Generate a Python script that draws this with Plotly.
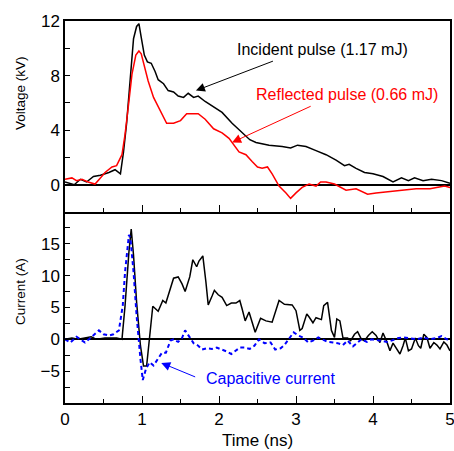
import plotly.graph_objects as go

# ---- Data ----
t_inc = [0, 0.07, 0.12, 0.2, 0.28, 0.37, 0.46, 0.57, 0.65, 0.72, 0.76, 0.8, 0.85, 0.89, 0.93, 0.96, 0.99,
         1.03, 1.07, 1.12, 1.17, 1.21, 1.28, 1.34, 1.41, 1.47, 1.54, 1.6, 1.67, 1.73, 1.82, 1.93, 2.04,
         2.17, 2.3, 2.4, 2.48, 2.65, 2.82, 2.93, 3.02, 3.13, 3.26, 3.39, 3.52, 3.63, 3.69, 3.78, 3.89,
         4.0, 4.13, 4.26, 4.37, 4.46, 4.54, 4.65, 4.76, 4.89, 5.0]
v_inc = [0.2, 0.1, 0.0, 0.4, 0.2, 0.6, 0.7, 0.9, 1.1, 0.8, 2.4, 4.5, 8.2, 10.7, 11.6, 11.8, 10.8,
         9.5, 9.0, 8.9, 8.3, 7.7, 7.4, 6.9, 6.8, 6.5, 6.4, 6.7, 6.4, 6.5, 6.1, 5.7, 5.3,
         4.5, 3.8, 3.3, 3.1, 2.9, 2.8, 2.7, 2.9, 2.8, 2.5, 2.2, 1.8, 1.4, 1.5, 1.2, 0.9,
         0.8, 0.6, 0.2, 0.5, 0.3, 0.5, 0.3, 0.4, 0.3, 0.1]

t_ref = [0, 0.09, 0.15, 0.22, 0.3, 0.39, 0.46, 0.52, 0.61, 0.67, 0.74, 0.78, 0.83, 0.87, 0.92, 0.96, 0.99,
         1.03, 1.08, 1.15, 1.21, 1.28, 1.32, 1.41, 1.5, 1.58, 1.67, 1.73, 1.82, 1.93, 2.04, 2.13, 2.26,
         2.35, 2.43, 2.5, 2.56, 2.63, 2.69, 2.78, 2.87, 2.93, 3.0, 3.08, 3.17, 3.26, 3.32, 3.39, 3.5,
         3.65, 3.78, 3.93, 4.04, 4.21, 4.39, 4.56, 4.74, 4.85, 4.93, 5.0]
v_ref = [0.4, 0.5, 0.3, 0.4, 0.2, 0.05, 0.5, 0.9, 1.3, 1.4, 2.2, 3.7, 6.1, 8.1, 9.5, 9.8, 9.6,
         8.7, 7.6, 6.4, 5.7, 4.9, 4.5, 4.5, 4.7, 5.2, 5.2, 5.2, 4.8, 4.1, 3.8, 3.4, 2.4,
         2.2, 1.7, 1.3, 1.2, 1.3, 0.8, -0.1, -0.6, -1.0, -0.6, -0.2, 0.05, -0.1, 0.2, 0.2, 0.05,
         -0.4, -0.3, -0.7, -0.6, -0.5, -0.4, -0.3, -0.3, -0.2, -0.1, -0.2]

t_cur = [0, 0.09, 0.17, 0.26, 0.34, 0.41, 0.52, 0.61, 0.67, 0.74, 0.78, 0.83, 0.86, 0.89, 0.93, 0.98,
         1.02, 1.06, 1.1, 1.14, 1.21, 1.27, 1.31, 1.37, 1.41, 1.47, 1.52, 1.56, 1.62, 1.66, 1.71, 1.74,
         1.79, 1.83, 1.86, 1.91, 1.94, 1.99, 2.04, 2.1, 2.16, 2.22, 2.27, 2.3, 2.34, 2.39, 2.43, 2.47,
         2.54, 2.61, 2.69, 2.73, 2.78, 2.85, 2.95, 3.0, 3.05, 3.08, 3.14, 3.17, 3.22, 3.26, 3.33, 3.36,
         3.41, 3.46, 3.5, 3.53, 3.57, 3.61, 3.67, 3.71, 3.76, 3.8, 3.85, 3.89, 3.94, 3.99, 4.04, 4.09,
         4.13, 4.18, 4.22, 4.26, 4.3, 4.35, 4.39, 4.42, 4.46, 4.5, 4.55, 4.59, 4.62, 4.66, 4.7, 4.74,
         4.79, 4.83, 4.87, 4.92, 4.96, 5.0]
i_cur = [0, 0.2, 0, 0.2, 0.4, 0, 0.2, 0.2, 0.2, 0, 5.3, 13.7, 17.3, 13.2, 5.8, -1.0,
         -4.2, -4.2, 0.6, 5.2, 4.4, 6.1, 5.7, 8.2, 9.6, 9.8, 8.7, 7.5, 9.8, 12.5, 11.4, 12.3,
         13.1, 9.0, 5.4, 6.8, 7.7, 7.0, 6.6, 5.3, 5.7, 5.7, 6.1, 4.8, 2.9, 4.3, 2.7, 1.1,
         3.3, 2.9, 2.7, 4.3, 6.1, 5.5, 5.4, 4.5, 1.4, 1.7, 4.0, 3.5, 2.6, 3.4, 3.1, 5.3,
         5.8, 1.4, 0.3, 3.2, 2.9, 0.2, 0.2, -0.2, 0.8, 1.2, 0, -0.2, 0.6, 1.2, 0.6, -0.5,
         1.0, -0.4, -1.8, -0.6, -1.3, -2.3, -1.0, 0.2, -1.8, -1.5, 0.2, -1.0, -1.4, 0.8, 0.3, -1.4,
         -0.5, -0.9, -1.5, -0.4, -0.9, -1.8]

t_cap = [0, 0.07, 0.15, 0.2, 0.26, 0.31, 0.37, 0.44, 0.5, 0.57, 0.63, 0.7, 0.75, 0.78, 0.83, 0.85,
         0.89, 0.93, 0.98, 1.01, 1.05, 1.1, 1.15, 1.2, 1.26, 1.31, 1.37, 1.41, 1.47, 1.52, 1.56, 1.62,
         1.67, 1.73, 1.78, 1.84, 1.91, 1.97, 2.04, 2.1, 2.16, 2.21, 2.27, 2.34, 2.4, 2.46, 2.52, 2.59,
         2.67, 2.73, 2.8, 2.85, 2.92, 2.97, 3.03, 3.09, 3.16, 3.22, 3.29, 3.35, 3.41, 3.48, 3.54, 3.61,
         3.67, 3.74, 3.79, 3.85, 3.92, 3.98, 4.04, 4.11, 4.18, 4.24, 4.33, 4.4, 4.48, 4.57, 4.66, 4.74,
         4.83, 4.89, 4.96, 5.0]
i_cap = [0, -0.5, 0.4, 0, -0.5, 0, 0.6, 1.4, 0.8, 0.6, 0.8, 1.4, 5.3, 10.6, 16.4, 15.8,
         10.6, 3.7, -3.1, -6.4, -4.7, -3.6, -4.1, -3.1, -2.1, -2.1, -0.2, 0, -0.4, 0.2, 1.4, 0.3,
         -0.6, -1.0, -1.6, -1.4, -1.5, -1.3, -1.6, -1.9, -2.3, -1.8, -1.3, -1.3, -1.5, -1.0, 0, -0.6,
         -0.5, -1.6, -1.4, -0.9, 0.3, 1.1, 0.6, 0.3, -0.5, -0.2, 0.3, -0.1, -0.4, -0.5, -0.6, -0.9,
         -0.2, -1.1, -0.6, 0, -0.4, 0, -0.1, -0.2, -0.4, -0.2, 0.2, 0.3, 0.2, 0, 0.3, 0,
         0.2, 0.5, 0, -0.1]

x_tickvals = [0, 1, 2, 3, 4, 5]
v_tickvals = [0, 4, 8, 12]
i_tickvals = [-5, 0, 5, 10, 15]

FONT = "Liberation Sans, Arial, sans-serif"
TICKFONT = dict(size=17, color="black", family=FONT)

fig = go.Figure()
fig.add_trace(go.Scatter(x=t_inc, y=v_inc, mode="lines", line=dict(color="black", width=1.5),
                         xaxis="x", yaxis="y", showlegend=False))
fig.add_trace(go.Scatter(x=t_ref, y=v_ref, mode="lines", line=dict(color="#ff0000", width=1.5),
                         xaxis="x", yaxis="y", showlegend=False))
fig.add_trace(go.Scatter(x=t_cur, y=i_cur, mode="lines", line=dict(color="black", width=1.5),
                         xaxis="x2", yaxis="y2", showlegend=False))
fig.add_trace(go.Scatter(x=t_cap, y=i_cap, mode="lines",
                         line=dict(color="#0000ff", width=2, dash="4px,3px"),
                         xaxis="x2", yaxis="y2", showlegend=False))

axis_common = dict(showline=True, linecolor="black", linewidth=1.5,
                   showgrid=False, ticks="inside", tickcolor="black", tickwidth=1.2,
                   automargin=False, tickfont=TICKFONT, ticklabeloverflow="allow")

fig.update_layout(
    width=454, height=451,
    margin=dict(l=65, r=4, t=21, b=48),
    plot_bgcolor="white", paper_bgcolor="white",
    font=dict(family=FONT, color="black"),
    xaxis=dict(domain=[0, 1], range=[0, 5], anchor="y", showticklabels=False, mirror=True,
               tickvals=x_tickvals, ticklen=7, zeroline=False,
               minor=dict(dtick=0.5, tick0=0, ticks="inside", ticklen=4, tickcolor="black"),
               **axis_common),
    yaxis=dict(domain=[0.5, 1], range=[-2, 12], anchor="x", tickvals=v_tickvals, ticklen=5,
               mirror=True, zeroline=True, zerolinecolor="black", zerolinewidth=1.5,
               minor=dict(dtick=2, tick0=0, ticks="inside", ticklen=5, tickcolor="black"),
               **axis_common),
    xaxis2=dict(domain=[0, 1], range=[0, 5], anchor="y2", tickvals=x_tickvals, ticklen=7,
                mirror=False, zeroline=False,
                minor=dict(dtick=0.5, tick0=0, ticks="inside", ticklen=4, tickcolor="black"),
                **axis_common),
    yaxis2=dict(domain=[0, 0.5], range=[-10, 20], anchor="x2", tickvals=i_tickvals, ticklen=5,
                mirror=True, zeroline=True, zerolinecolor="black", zerolinewidth=1.5,
                minor=dict(dtick=2.5, tick0=0, ticks="inside", ticklen=5, tickcolor="black"),
                **axis_common),
)

# axis titles
fig.add_annotation(x=-0.117, y=0.8115, xref="paper", yref="paper", text="Voltage (kV)",
                   textangle=-90, showarrow=False, xanchor="center", yanchor="middle",
                   font=dict(size=13.5, color="black", family=FONT))
fig.add_annotation(x=-0.117, y=0.293, xref="paper", yref="paper", text="Current (A)",
                   textangle=-90, showarrow=False, xanchor="center", yanchor="middle",
                   font=dict(size=13.5, color="black", family=FONT))
fig.add_annotation(x=0.5, y=-0.099, xref="paper", yref="paper", text="Time (ns)",
                   showarrow=False, xanchor="center", yanchor="middle",
                   font=dict(size=17, color="black", family=FONT))

# text annotations
fig.add_annotation(x=3.34, y=9.9, xref="x", yref="y", text="Incident pulse (1.17 mJ)",
                   showarrow=False, font=dict(size=16, color="black", family=FONT))
fig.add_annotation(x=3.66, y=6.6, xref="x", yref="y", text="Reflected pulse (0.66 mJ)",
                   showarrow=False, font=dict(size=16, color="#ff0000", family=FONT))
fig.add_annotation(x=2.67, y=-6.1, xref="x2", yref="y2", text="Capacitive current",
                   showarrow=False, font=dict(size=16, color="#0000ff", family=FONT))

# arrows
fig.add_annotation(x=1.70, y=6.9, ax=2.72, ay=9.1, xref="x", yref="y", axref="x", ayref="y",
                   text="", showarrow=True, arrowhead=2, arrowsize=1.8, arrowwidth=1, arrowcolor="black")
fig.add_annotation(x=2.17, y=3.1, ax=3.21, ay=5.8, xref="x", yref="y", axref="x", ayref="y",
                   text="", showarrow=True, arrowhead=2, arrowsize=1.8, arrowwidth=1, arrowcolor="#ff0000")
fig.add_annotation(x=1.25, y=-3.7, ax=1.71, ay=-6.0, xref="x2", yref="y2", axref="x2", ayref="y2",
                   text="", showarrow=True, arrowhead=2, arrowsize=1.8, arrowwidth=1, arrowcolor="#0000ff")

fig.write_html("out.html", config={"displayModeBar": False},
               post_script="document.body.style.margin='0';document.body.style.padding='0';"
                           "document.documentElement.style.overflow='hidden';")
